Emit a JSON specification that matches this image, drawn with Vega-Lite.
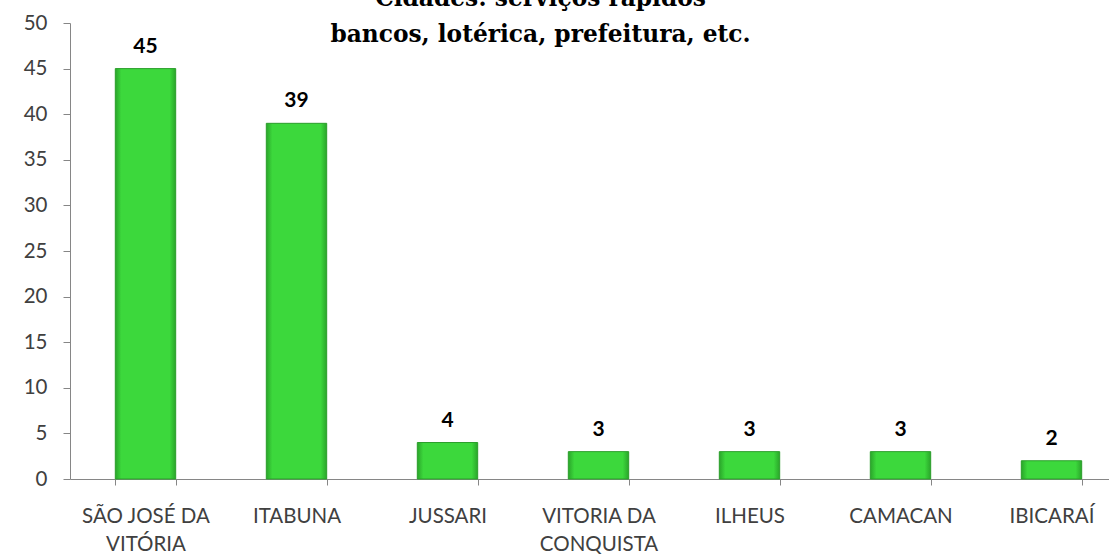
{
  "$schema": "https://vega.github.io/schema/vega-lite/v6.json",
  "autosize": "none",
  "width": 1057,
  "height": 456,
  "padding": {"left": 70, "top": 23, "right": 0, "bottom": 77},
  "background": "white",
  "title": {
    "text": ["Cidades: serviços rápidos", "bancos, lotérica, prefeitura, etc."],
    "font": "DejaVu Serif",
    "fontSize": 23.3,
    "fontWeight": "bold",
    "color": "#000000",
    "lineHeight": 36,
    "anchor": "middle",
    "baseline": "alphabetic",
    "offset": 0,
    "dx": -58,
    "dy": 52
  },
  "data": {
    "values": [
      {"cidade": "SÃO JOSÉ DA VITÓRIA", "valor": 45},
      {"cidade": "ITABUNA", "valor": 39},
      {"cidade": "JUSSARI", "valor": 4},
      {"cidade": "VITORIA DA CONQUISTA", "valor": 3},
      {"cidade": "ILHEUS", "valor": 3},
      {"cidade": "CAMACAN", "valor": 3},
      {"cidade": "IBICARAÍ", "valor": 2}
    ]
  },
  "encoding": {
    "x": {
      "field": "cidade",
      "type": "nominal",
      "sort": null,
      "scale": {"paddingInner": 0.6, "paddingOuter": 0.3},
      "axis": {
        "title": null,
        "labelAngle": 0,
        "labelExpr": "split(replace(datum.label, 'DA ', 'DA|'), '|')",
        "labelFont": "Lato",
        "labelFontSize": 20.5,
        "labelColor": "#404040",
        "labelLineHeight": 28,
        "labelPadding": 21,
        "labelBaseline": "top",
        "tickBand": "extent",
        "tickSize": 6,
        "tickColor": "#868686",
        "domainColor": "#868686",
        "labelLimit": 300
      }
    },
    "y": {
      "field": "valor",
      "type": "quantitative",
      "scale": {"domain": [0, 50]},
      "axis": {
        "title": null,
        "values": [0, 5, 10, 15, 20, 25, 30, 35, 40, 45, 50],
        "grid": false,
        "labelFont": "Lato",
        "labelFontSize": 20.5,
        "labelColor": "#404040",
        "labelPadding": 16,
        "tickSize": 7,
        "tickColor": "#868686",
        "domainColor": "#868686"
      }
    }
  },
  "layer": [
    {
      "mark": {
        "type": "bar",
        "stroke": "#2a9e2a",
        "strokeWidth": 1,
        "color": {
          "gradient": "linear",
          "x1": 0, "y1": 0, "x2": 1, "y2": 0,
          "stops": [
            {"offset": 0, "color": "#2aa52a"},
            {"offset": 0.1, "color": "#3cd83c"},
            {"offset": 0.9, "color": "#3cd83c"},
            {"offset": 1, "color": "#2aa52a"}
          ]
        }
      }
    },
    {
      "mark": {
        "type": "text",
        "font": "Lato",
        "fontSize": 21,
        "fontWeight": "bold",
        "color": "#000000",
        "baseline": "alphabetic",
        "dy": -16
      },
      "encoding": {"text": {"field": "valor", "type": "quantitative"}}
    }
  ],
  "config": {"view": {"stroke": null}}
}
